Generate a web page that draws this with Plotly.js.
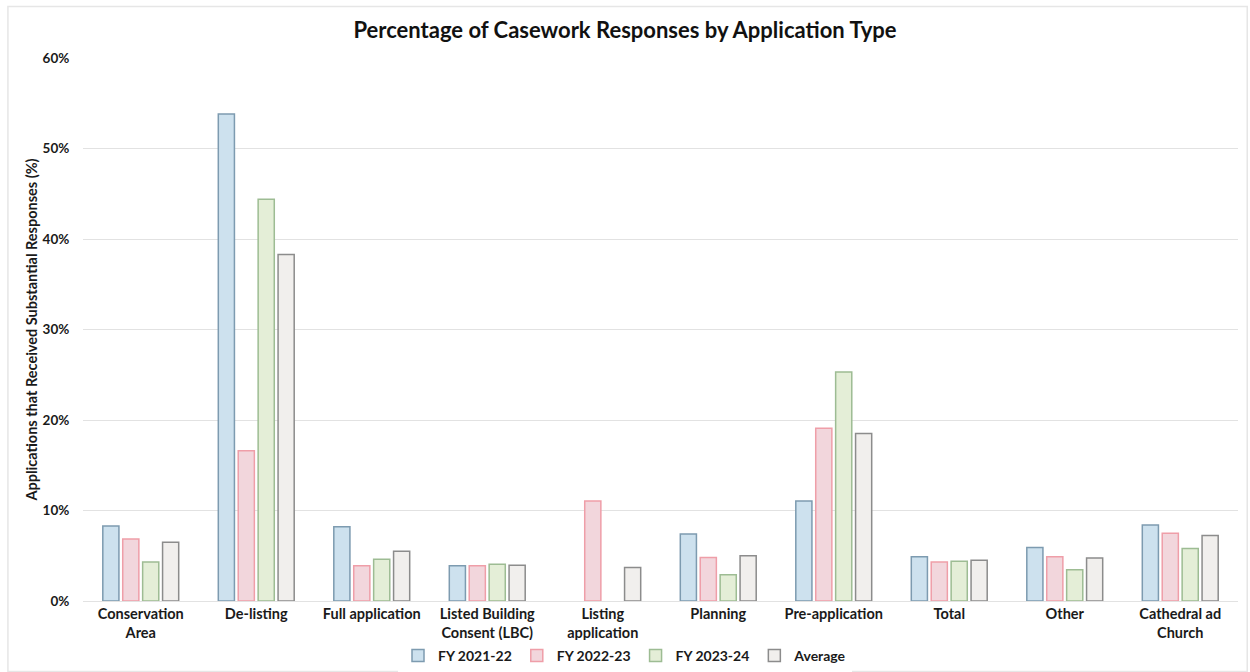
<!DOCTYPE html>
<html>
<head>
<meta charset="utf-8">
<script src="https://cdn.plot.ly/plotly-3.0.1.min.js"></script>
<style>
html,body{margin:0;padding:0;background:#fff;}
#chart{width:1250px;height:672px;}
</style>
</head>
<body>
<div id="chart"></div>
<script>
const categories = ["Conservation<br>Area","De-listing","Full application","Listed Building<br>Consent (LBC)","Listing<br>application","Planning","Pre-application","Total","Other","Cathedral ad<br>Church"];
const fy2122 = [8.3, 53.8, 8.2, 3.9, null, 7.4, 11.05, 4.9, 5.9, 8.4];
const fy2223 = [6.85, 16.6, 3.9, 3.9, 11.05, 4.8, 19.1, 4.3, 4.9, 7.5];
const fy2324 = [4.3, 44.4, 4.6, 4.05, null, 2.9, 25.3, 4.4, 3.45, 5.8];
const average = [6.5, 38.3, 5.5, 3.95, 3.7, 5.0, 18.5, 4.5, 4.75, 7.25];
const seriesNames = ["FY 2021-22","FY 2022-23","FY 2023-24","Average"];

const fills = ["#cde1ee","#f2d6dc","#e4eed7","#f1efed"];
const strokes = ["#7d9bb0","#ef9ea8","#9dbc93","#8c8c8c"];
const data = [fy2122, fy2223, fy2324, average].map((vals, i) => ({
  type: "bar",
  name: seriesNames[i],
  x: categories,
  y: vals.map(v => v === null ? null : v / 100),
  marker: {color: fills[i], line: {color: strokes[i], width: 1.5}},
  hoverinfo: "x+y"
}));

const fontFam = "Lato, 'Noto Sans', sans-serif";
const layout = {
  width: 1250, height: 672,
  paper_bgcolor: "#fff", plot_bgcolor: "#fff",
  margin: {l: 83, r: 12, t: 58, b: 71},
  font: {family: fontFam, color: "#1a1a1a"},
  title: {text: "Percentage of Casework Responses by Application Type", x: 0.5, xref: "container", y: 0.955, yref: "container", yanchor: "middle",
          font: {size: 22, family: fontFam, weight: 700, color: "#111"}},
  barmode: "group",
  bargap: 0.31,
  bargroupgap: 0.19,
  xaxis: {
    tickfont: {size: 14.5, family: fontFam, weight: 700, color: "#1a1a1a"},
    showline: true, linecolor: "#e2e2e2", linewidth: 1,
    ticks: "", showgrid: false, automargin: false
  },
  yaxis: {
    range: [0, 0.6], dtick: 0.1, tickformat: ".0%",
    tickfont: {size: 13.5, family: fontFam, weight: 700, color: "#1a1a1a"},
    gridcolor: "#e2e2e2", gridwidth: 1, zeroline: false,
    ticks: "outside", ticklen: 10, tickcolor: "rgba(0,0,0,0)",
    automargin: false,
    title: {text: "Applications that Received Substantial Responses (%)", standoff: 1,
            font: {size: 14.5, family: fontFam, weight: 700, color: "#1a1a1a"}}
  },
  legend: {orientation: "h", x: 0.5, xanchor: "center", xref: "container", y: 0.0, yref: "container", yanchor: "bottom",
           font: {size: 14, family: fontFam, weight: 700, color: "#1a1a1a"}, itemwidth: 30, traceorder: "normal"},
  shapes: [{type: "rect", xref: "paper", yref: "paper", x0: -0.065, x1: 1.008, y0: -0.13, y1: 1.095,
            line: {color: "#e6e6e6", width: 1.5}, fillcolor: "rgba(0,0,0,0)", layer: "below"}]
};

Plotly.newPlot("chart", data, layout, {displayModeBar: false, staticPlot: true});
</script>
</body>
</html>
